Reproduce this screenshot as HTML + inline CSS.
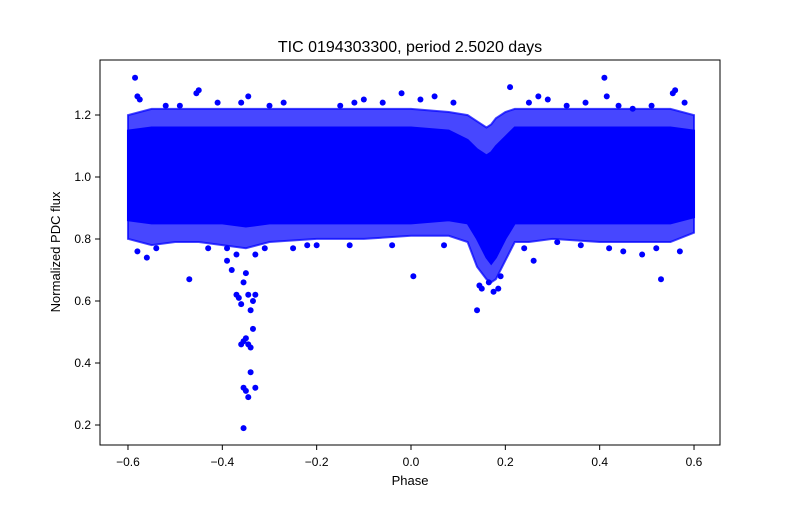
<!DOCTYPE html>
<html><head><meta charset="utf-8"><style>
body{margin:0;background:#fff}
svg{font-family:"Liberation Sans","DejaVu Sans",sans-serif}
</style></head><body>
<svg id="chart" width="800" height="500">
<rect width="800" height="500" fill="#fff"/>
<text x="410" y="52" font-size="16" text-anchor="middle">TIC 0194303300, period 2.5020 days</text>
<g id="plot"></g>
<rect x="100" y="60" width="620" height="385" fill="none" stroke="#000" stroke-width="1"/>
<g id="xt"></g>
<g id="yt"></g>
<text x="410" y="485" font-size="13" text-anchor="middle">Phase</text>
<text transform="translate(60,252) rotate(-90)" font-size="13" text-anchor="middle">Normalized PDC flux</text>
</svg>
<script>
// binned envelope of the dense scatter (phase, flux)
const binPhase = [-0.6,-0.55,-0.5,-0.45,-0.4,-0.35,-0.3,-0.2,-0.1,0.0,0.08,0.12,0.14,0.16,0.17,0.18,0.2,0.22,0.25,0.3,0.4,0.5,0.55,0.6];
const coreLow  = [0.87,0.86,0.86,0.86,0.86,0.85,0.86,0.86,0.86,0.86,0.87,0.86,0.81,0.75,0.73,0.75,0.81,0.86,0.86,0.86,0.86,0.86,0.86,0.88];
const coreHigh = [1.14,1.15,1.15,1.15,1.15,1.15,1.15,1.15,1.15,1.15,1.14,1.11,1.08,1.06,1.07,1.09,1.12,1.15,1.15,1.15,1.15,1.15,1.15,1.14];
const fuzzLow  = [0.81,0.79,0.80,0.80,0.79,0.78,0.80,0.81,0.81,0.82,0.82,0.80,0.72,0.68,0.67,0.68,0.74,0.80,0.80,0.81,0.80,0.80,0.80,0.83];
const fuzzHigh = [1.19,1.21,1.21,1.21,1.21,1.21,1.21,1.21,1.21,1.21,1.20,1.19,1.17,1.15,1.16,1.18,1.20,1.21,1.21,1.21,1.21,1.21,1.21,1.19];
// individual outlier points
const outPhase = [-0.585,-0.58,-0.575,-0.45,-0.455,-0.47,-0.58,-0.56,-0.38,-0.37,-0.36,-0.365,-0.355,-0.35,-0.345,-0.34,-0.335,-0.33,-0.36,-0.355,-0.35,-0.345,-0.34,-0.335,-0.355,-0.35,-0.345,-0.34,-0.33,-0.355,-0.37,-0.39,0.005,0.14,0.145,0.15,0.185,0.21,0.41,0.415,0.53,0.56,0.555,-0.345,-0.36,-0.02,0.05,-0.1,0.27,0.45,0.49,0.26,-0.2,-0.25,0.165,0.175,0.19,
 -0.52,-0.49,-0.41,-0.3,-0.27,-0.15,-0.12,-0.06,0.02,0.09,0.25,0.29,0.33,0.37,0.44,0.47,0.51,0.58,-0.54,-0.43,-0.31,-0.22,-0.13,-0.04,0.07,0.24,0.31,0.36,0.42,0.52,0.57,-0.39,-0.33];
const outFlux  = [1.32,1.26,1.25,1.28,1.27,0.67,0.76,0.74,0.70,0.62,0.59,0.61,0.66,0.69,0.62,0.57,0.60,0.62,0.46,0.47,0.48,0.46,0.45,0.51,0.32,0.31,0.29,0.37,0.32,0.19,0.75,0.77,0.68,0.57,0.65,0.64,0.64,1.29,1.32,1.26,0.67,1.28,1.27,1.26,1.24,1.27,1.26,1.25,1.26,0.76,0.75,0.73,0.78,0.77,0.66,0.63,0.68,
 1.23,1.23,1.24,1.23,1.24,1.23,1.24,1.24,1.25,1.24,1.24,1.25,1.23,1.24,1.23,1.22,1.23,1.24,0.77,0.77,0.77,0.78,0.78,0.78,0.78,0.77,0.79,0.78,0.77,0.77,0.76,0.73,0.75];
const xTicks = [-0.6,-0.4,-0.2,0.0,0.2,0.4,0.6];
const xTickLabels = ["−0.6","−0.4","−0.2","0.0","0.2","0.4","0.6"];
const yTicks = [0.2,0.4,0.6,0.8,1.0,1.2];
const yTickLabels = ["0.2","0.4","0.6","0.8","1.0","1.2"];

const NS="http://www.w3.org/2000/svg";
const X = v => 411 + v*471.7;
const Y = v => 177 - (v-1.0)*310;
const plot=document.getElementById('plot');
function band(lo,hi,op,name){
  let pts=[];
  binPhase.forEach((p,i)=>pts.push(X(p)+','+(Y(hi[i])-3)));
  for(let i=binPhase.length-1;i>=0;i--) pts.push(X(binPhase[i])+','+(Y(lo[i])+3));
  const pg=document.createElementNS(NS,'polygon');
  pg.setAttribute('points',pts.join(' '));
  pg.setAttribute('fill','#0000ff');pg.setAttribute('fill-opacity',op);
  pg.setAttribute('stroke','#0000ff');pg.setAttribute('stroke-width','2');pg.setAttribute('stroke-opacity',op);
  
  
  plot.appendChild(pg);
}
band(fuzzLow,fuzzHigh,0.72,'scatter-fuzz-band');
band(coreLow,coreHigh,1,'scatter-core-band');
outPhase.forEach((p,i)=>{
  const c=document.createElementNS(NS,'circle');
  c.setAttribute('cx',X(p));c.setAttribute('cy',Y(outFlux[i]));c.setAttribute('r',3);c.setAttribute('fill','#0000ff');
  
  
  plot.appendChild(c);
});
const xt=document.getElementById('xt');
xTicks.forEach((t,i)=>{
  const l=document.createElementNS(NS,'line');
  l.setAttribute('x1',X(t));l.setAttribute('x2',X(t));l.setAttribute('y1',445);l.setAttribute('y2',450);l.setAttribute('stroke','#000');
  
  
  xt.appendChild(l);
  const tx=document.createElementNS(NS,'text');
  tx.setAttribute('x',X(t));tx.setAttribute('y',466);tx.setAttribute('font-size','12');tx.setAttribute('text-anchor','middle');
  tx.textContent=xTickLabels[i];
  
  
  xt.appendChild(tx);
});
const yt=document.getElementById('yt');
yTicks.forEach((t,i)=>{
  const l=document.createElementNS(NS,'line');
  l.setAttribute('x1',95);l.setAttribute('x2',100);l.setAttribute('y1',Y(t));l.setAttribute('y2',Y(t));l.setAttribute('stroke','#000');
  
  
  yt.appendChild(l);
  const tx=document.createElementNS(NS,'text');
  tx.setAttribute('x',91);tx.setAttribute('y',Y(t)+4);tx.setAttribute('font-size','12');tx.setAttribute('text-anchor','end');
  tx.textContent=yTickLabels[i];
  
  
  yt.appendChild(tx);
});
</script>
</body></html>
